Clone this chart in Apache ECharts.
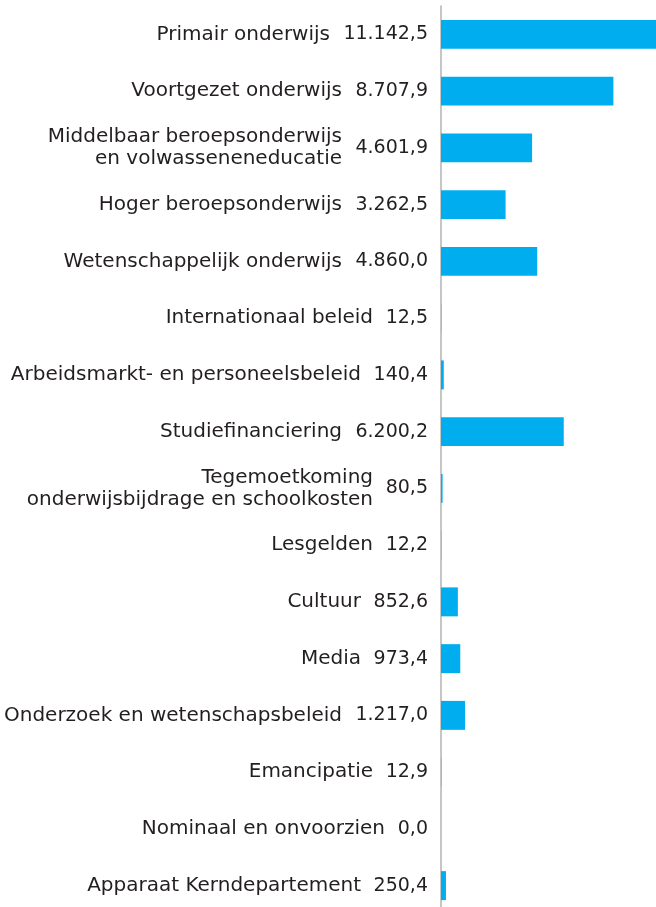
<!DOCTYPE html>
<html>
<head>
<meta charset="utf-8">
<script src="https://cdn.jsdelivr.net/npm/echarts@6/dist/echarts.min.js"></script>
<style>
  html, body { margin: 0; padding: 0; background: #fff; }
  #chart { width: 656px; height: 907px; }
</style>
</head>
<body>
<div id="chart"></div>
<script>
// categorieën (van boven naar beneden)
const categories = [
  "Primair onderwijs",
  "Voortgezet onderwijs",
  "Middelbaar beroepsonderwijs\nen volwasseneneducatie",
  "Hoger beroepsonderwijs",
  "Wetenschappelijk onderwijs",
  "Internationaal beleid",
  "Arbeidsmarkt- en personeelsbeleid",
  "Studiefinanciering",
  "Tegemoetkoming\nonderwijsbijdrage en schoolkosten",
  "Lesgelden",
  "Cultuur",
  "Media",
  "Onderzoek en wetenschapsbeleid",
  "Emancipatie",
  "Nominaal en onvoorzien",
  "Apparaat Kerndepartement"
];

// bedragen
const values = [
  11142.5, 8707.9, 4601.9, 3262.5, 4860.0, 12.5, 140.4, 6200.2,
  80.5, 12.2, 852.6, 973.4, 1217.0, 12.9, 0.0, 250.4
];

const FONT_SIZE = 20;
const VALUE_SIZE = 19;
const FONT_FAMILY = "DejaVu Sans";
const TEXT_COLOR = "#231f20";
const BAR_COLOR = "#00aeef";

// Nederlandse notatie: 11.142,5
function fmt(v) {
  const parts = v.toFixed(1).split(".");
  const intPart = parts[0].replace(/\B(?=(\d{3})+(?!\d))/g, ".");
  return intPart + "," + parts[1];
}

// breedte van de waarde meten, zodat de naam er netjes links van komt
const ctx = document.createElement("canvas").getContext("2d");
ctx.font = VALUE_SIZE + "px '" + FONT_FAMILY + "'";
const rich = {};
values.forEach((v, i) => {
  rich["s" + i] = { width: Math.round(ctx.measureText(fmt(v)).width) + 13 };
});
rich.n = { fontSize: FONT_SIZE, fontFamily: FONT_FAMILY, color: TEXT_COLOR, lineHeight: 22 };

const chart = echarts.init(document.getElementById("chart"));

chart.setOption({
  animation: false,
  grid: { left: 441, right: 0, top: 6, height: 908, outerBoundsMode: "none" },
  xAxis: {
    type: "value",
    min: 0,
    max: 10860,
    show: false
  },
  yAxis: {
    type: "category",
    inverse: true,
    data: categories,
    axisLine: { show: true, lineStyle: { color: "#b3b3b3", width: 1.5 } },
    axisTick: { show: false },
    axisLabel: {
      margin: 13,
      align: "right",
      formatter: (name, i) =>
        name.split("\n").map(line => "{n|" + line + "}{s" + i + "|}").join("\n"),
      rich: rich
    }
  },
  series: [
    {
      type: "bar",
      data: values,
      barWidth: "51%",
      itemStyle: { color: BAR_COLOR },
      clip: true,
      label: {
        show: true,
        position: "left",
        distance: 13,
        formatter: p => fmt(p.value),
        fontSize: VALUE_SIZE,
        fontFamily: FONT_FAMILY,
        color: TEXT_COLOR
      }
    }
  ]
});
</script>
</body>
</html>
